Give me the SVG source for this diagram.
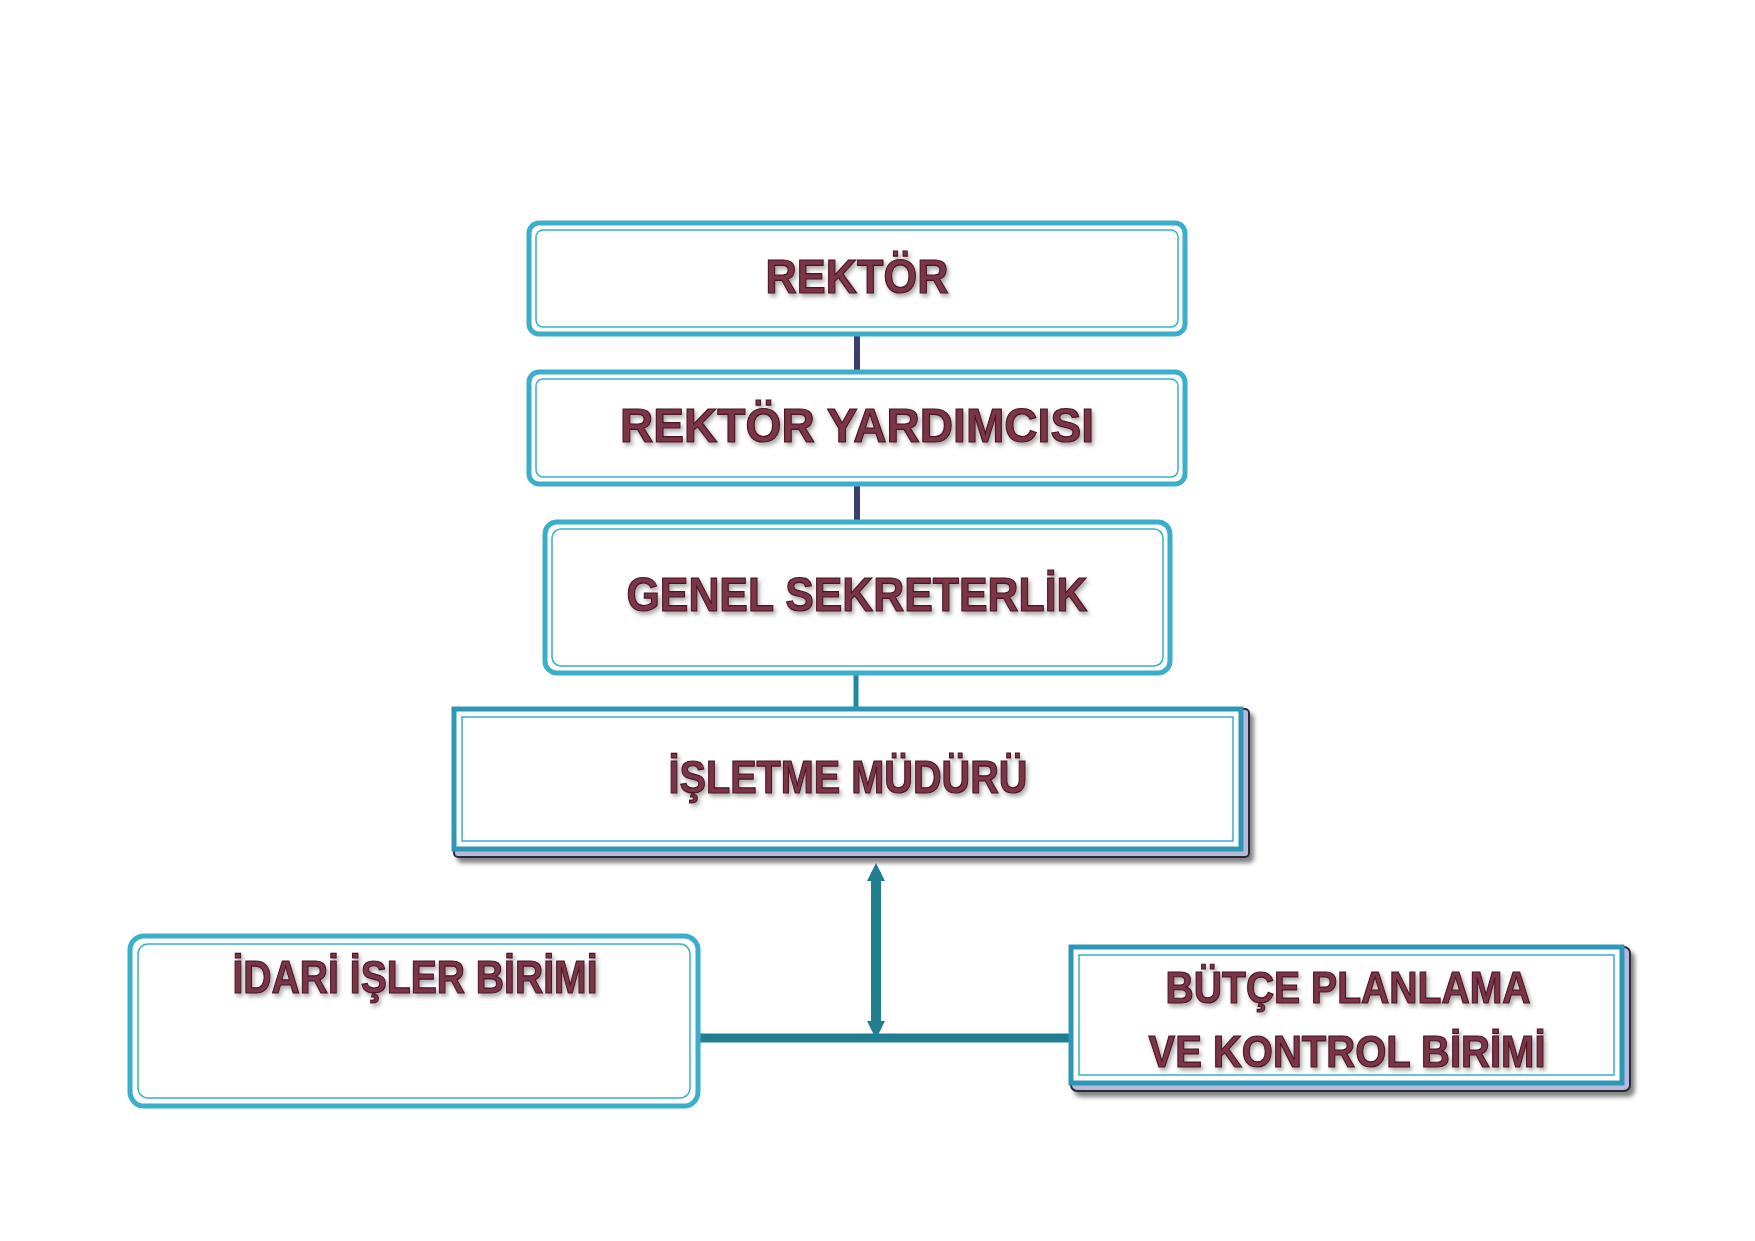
<svg xmlns="http://www.w3.org/2000/svg" width="1755" height="1241" viewBox="0 0 1755 1241">
<defs>
<style>
.box{fill:#fff;stroke:#3aaecb;stroke-width:5}
.inner{fill:none;stroke:#3aaecb;stroke-width:1.5}
.lbl{font-family:"Liberation Sans",Arial,sans-serif;font-weight:bold;fill:#7a3447;stroke:#4a1626;stroke-width:1.2;text-anchor:middle;filter:url(#sh)}
</style>
<filter id="sh" x="-10%" y="-30%" width="120%" height="160%"><feDropShadow dx="2" dy="3" stdDeviation="2" flood-color="#000" flood-opacity="0.35"/></filter>
<filter id="bs" x="-5%" y="-5%" width="110%" height="120%"><feDropShadow dx="4" dy="5" stdDeviation="2" flood-color="#333" flood-opacity="0.6"/></filter>
<marker id="ah" viewBox="0 0 10 10" refX="5" refY="5" markerWidth="1.8" markerHeight="1.8" orient="auto-start-reverse"><path d="M0,0 L10,5 L0,10 z" fill="#1f7f90"/></marker>
</defs>
<rect width="1755" height="1241" fill="#fff"/>
<g id="connectors">
<line x1="857" y1="334" x2="857" y2="372" stroke="#3b3f6b" stroke-width="6"/>
<line x1="857" y1="484" x2="857" y2="522" stroke="#3b3f6b" stroke-width="6"/>
<line x1="856" y1="673" x2="856" y2="709" stroke="#1f8a9c" stroke-width="5"/>
<line x1="876" y1="872" x2="876" y2="1030" stroke="#1f7f90" stroke-width="10" marker-start="url(#ah)" marker-end="url(#ah)"/>
<line x1="686" y1="1038" x2="1078" y2="1038" stroke="#1f7f90" stroke-width="9" marker-start="url(#ah)" marker-end="url(#ah)"/>
</g>
<g id="rektor">
<rect class="box" x="529" y="223" width="656" height="111" rx="10"/>
<rect class="inner" x="536" y="230" width="642" height="97" rx="7"/>
<text class="lbl" x="857" y="293" font-size="48" textLength="183" lengthAdjust="spacingAndGlyphs">REKTÖR</text>
</g>
<g id="yardimci">
<rect class="box" x="529" y="372" width="656" height="112" rx="10"/>
<rect class="inner" x="536" y="379" width="642" height="98" rx="7"/>
<text class="lbl" x="857" y="442" font-size="48" textLength="474" lengthAdjust="spacingAndGlyphs">REKTÖR YARDIMCISI</text>
</g>
<g id="genel">
<rect class="box" x="545" y="522" width="625" height="151" rx="12"/>
<rect class="inner" x="552" y="529" width="611" height="137" rx="9"/>
<text class="lbl" x="857" y="611" font-size="48" textLength="461" lengthAdjust="spacingAndGlyphs">GENEL SEKRETERLİK</text>
</g>
<g id="isletme">
<rect x="454" y="709" width="795" height="148" fill="#b7b9dc" stroke="#2a2a3a" stroke-width="2" rx="4" filter="url(#bs)"/>
<rect x="454" y="709" width="787" height="140" fill="#fff" stroke="#2e97b5" stroke-width="5"/>
<rect class="inner" x="462" y="717" width="771" height="124"/>
<text class="lbl" x="848" y="793" font-size="46" textLength="359" lengthAdjust="spacingAndGlyphs">İŞLETME MÜDÜRÜ</text>
</g>
<g id="idari">
<rect class="box" x="130" y="936" width="568" height="170" rx="14"/>
<rect class="inner" x="138" y="944" width="552" height="154" rx="10"/>
<text class="lbl" x="415" y="993" font-size="46" textLength="365" lengthAdjust="spacingAndGlyphs">İDARİ İŞLER BİRİMİ</text>
</g>
<g id="butce">
<rect x="1071" y="947" width="559" height="144" fill="#b7b9dc" stroke="#2a2a3a" stroke-width="2" rx="6" filter="url(#bs)"/>
<rect x="1071" y="947" width="551" height="136" fill="#fff" stroke="#2e97b5" stroke-width="5"/>
<rect class="inner" x="1079" y="955" width="535" height="120"/>
<text class="lbl" x="1348" y="1003" font-size="44" textLength="365" lengthAdjust="spacingAndGlyphs">BÜTÇE PLANLAMA</text>
<text class="lbl" x="1347" y="1067" font-size="44" textLength="397" lengthAdjust="spacingAndGlyphs">VE KONTROL BİRİMİ</text>
</g>
</svg>
